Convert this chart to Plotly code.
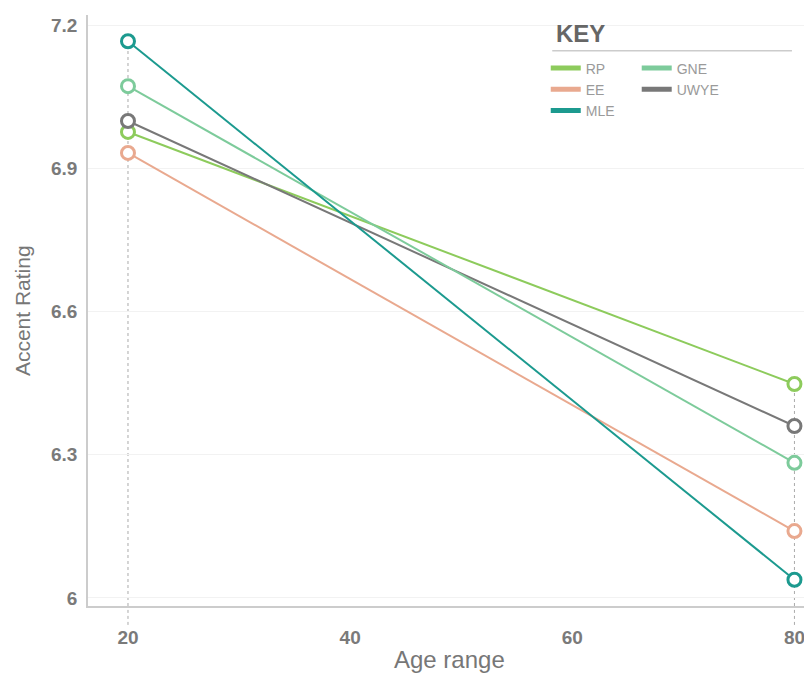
import plotly.graph_objects as go

ages = [20, 80]
series_names = ["RP", "EE", "MLE", "GNE", "UWYE"]
rp = [6.976, 6.448]
gne = [7.072, 6.283]
ee = [6.932, 6.140]
uwye = [6.999, 6.360]
mle = [7.166, 6.038]
y_ticks = [6, 6.3, 6.6, 6.9, 7.2]
y_tick_labels = ["6", "6.3", "6.6", "6.9", "7.2"]
x_ticks = [20, 40, 60, 80]

values = {"RP": rp, "GNE": gne, "EE": ee, "UWYE": uwye, "MLE": mle}
colors = {"RP": "#8dcb5c", "GNE": "#7dcb9b", "EE": "#e9a98f",
          "UWYE": "#787878", "MLE": "#1c9a8f"}
legend_of = {"RP": "legend", "EE": "legend", "MLE": "legend",
             "GNE": "legend2", "UWYE": "legend2"}
draw_order = ["EE", "RP", "UWYE", "GNE", "MLE"]

y_range = [5.983, 7.221]
x_range = [16.4, 81.4]

SANS = "Liberation Sans, Arial, sans-serif"
NARROW = "Liberation Sans Narrow, Liberation Sans, Arial, sans-serif"

fig = go.Figure()

# legend-only traces (line swatches)
for name in series_names:
    fig.add_trace(go.Scatter(x=[None], y=[None], mode="lines", name=name,
                             line=dict(color=colors[name], width=5),
                             showlegend=True, legend=legend_of[name], hoverinfo="skip"))

for name in draw_order:
    fig.add_trace(go.Scatter(x=ages, y=values[name], mode="lines+markers", name=name,
                             showlegend=False,
                             line=dict(color=colors[name], width=2),
                             marker=dict(symbol="circle", size=13, color="white",
                                         line=dict(color=colors[name], width=3)),
                             cliponaxis=False))

# dotted guide lines at first and last age
for i, a in enumerate(ages):
    top = max(values[n][i] for n in series_names)
    fig.add_shape(type="line", xref="x", yref="y", x0=a, x1=a, y0=y_range[0], y1=top,
                  line=dict(color="#aaaaaa", width=1, dash="dot"), layer="below")
    fig.add_shape(type="line", xref="x", yref="paper", x0=a, x1=a, y0=-0.032, y1=0,
                  line=dict(color="#aaaaaa", width=1, dash="dot"), layer="below")

# legend heading and underline
fig.add_annotation(text="<b>KEY</b>", xref="paper", yref="paper", x=0.645, y=0.968,
                   xanchor="left", yanchor="middle", showarrow=False,
                   font=dict(size=24, color="#666666", family=SANS))
fig.add_shape(type="line", xref="paper", yref="paper", x0=0.643, x1=0.975,
              y0=0.9396, y1=0.9396, line=dict(color="#cccccc", width=1.5))

# axis titles
fig.add_annotation(text="Age range", xref="paper", yref="paper", x=0.5, y=0,
                   xanchor="center", yanchor="top", yshift=-38, showarrow=False,
                   font=dict(size=24, color="#777777", family=NARROW))
fig.add_annotation(text="Accent Rating", xref="paper", yref="paper", x=-0.0914, y=0.499,
                   xanchor="center", yanchor="middle", textangle=-90, showarrow=False,
                   font=dict(size=21, color="#777777", family=NARROW))

legend_common = dict(orientation="v", xanchor="left", yanchor="top",
                     font=dict(size=14, color="#9a9a9a", family=SANS),
                     tracegroupgap=0, itemwidth=30, bgcolor="rgba(0,0,0,0)")

fig.update_layout(
    width=804, height=665,
    margin=dict(l=80, r=2, t=7, b=67),
    plot_bgcolor="white", paper_bgcolor="white",
    font=dict(family=SANS, color="#777777"),
    showlegend=True,
    legend=dict(x=0.634, y=0.9366, **legend_common),
    legend2=dict(x=0.760, y=0.9366, **legend_common),
    xaxis=dict(range=x_range, tickvals=x_ticks, showgrid=False, zeroline=False,
               showline=True, linecolor="#cccccc", linewidth=1.5,
               ticks="", ticklabelstandoff=13, automargin=False,
               tickfont=dict(size=19, color="#7a7a7a", family=SANS, weight="bold")),
    yaxis=dict(range=y_range, tickvals=y_ticks, ticktext=y_tick_labels,
               showgrid=True, gridcolor="#f2f2f2", zeroline=False,
               showline=True, linecolor="#cccccc", linewidth=1.5,
               ticks="", ticklabelstandoff=5, automargin=False,
               tickfont=dict(size=19, color="#7a7a7a", family=SANS, weight="bold")),
)

fig.write_html("out.html")
